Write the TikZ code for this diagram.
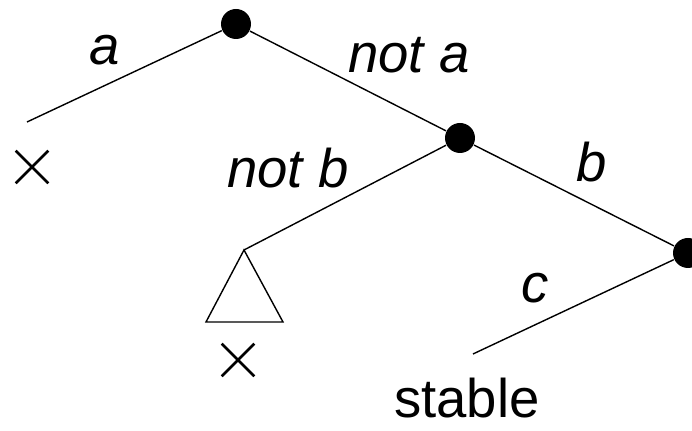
\documentclass[tikz,border=0pt]{standalone}
\usepackage{fontspec}
\setmainfont{Liberation Sans}
\usetikzlibrary{shapes.misc}

\begin{document}
\begin{tikzpicture}[
  every node/.style={font=\rmfamily},
  dot/.style={circle, fill=black, inner sep=0pt, minimum size=0.3cm},
  label/.style={font=\fontsize{15.5}{18}\selectfont\itshape, anchor=base},
  fail/.style={cross out, draw=black, line width=0.75pt, inner sep=0pt, minimum size=0.3cm},
  edge/.style={line width=0.4pt},
]

\useasboundingbox (0,0) rectangle (6.92,-4.31);

\node[dot] (root) at (2.36,-0.24) {};
\node[dot] (nb) at (4.60,-1.38) {};
\node[dot] (nc) at (6.88,-2.53) {};

% branch a
\coordinate (endA) at (0.27,-1.22);
\draw[edge] (root) -- (endA);
\node[fail] (failA) at (0.32,-1.67) {};
\node[label] (lblA) at (1.05,-0.65) {a};

\draw[edge] (root) -- (nb);
\node[label] (lblNotA) at (4.09,-0.73) {not a};

% subtree under not b
\coordinate (top) at (2.44,-2.50);
\coordinate (baseL) at (2.06,-3.22);
\coordinate (baseR) at (2.83,-3.22);
\draw[edge] (nb) -- (top);
\draw[edge] (top) -- (baseL) -- (baseR) -- cycle;
\node[fail] (failB) at (2.38,-3.60) {};
\node[label] (lblNotB) at (2.88,-1.88) {not b};

\draw[edge] (nb) -- (nc);
\node[label] (lblB) at (5.92,-1.82) {b};

% branch c
\coordinate (endC) at (4.73,-3.54);
\draw[edge] (nc) -- (endC);
\node[label] (lblC) at (5.35,-3.03) {c};
\node[font=\fontsize{15.5}{18}\selectfont, anchor=base] (stable) at (4.67,-4.18) {stable};

\end{tikzpicture}
\end{document}
